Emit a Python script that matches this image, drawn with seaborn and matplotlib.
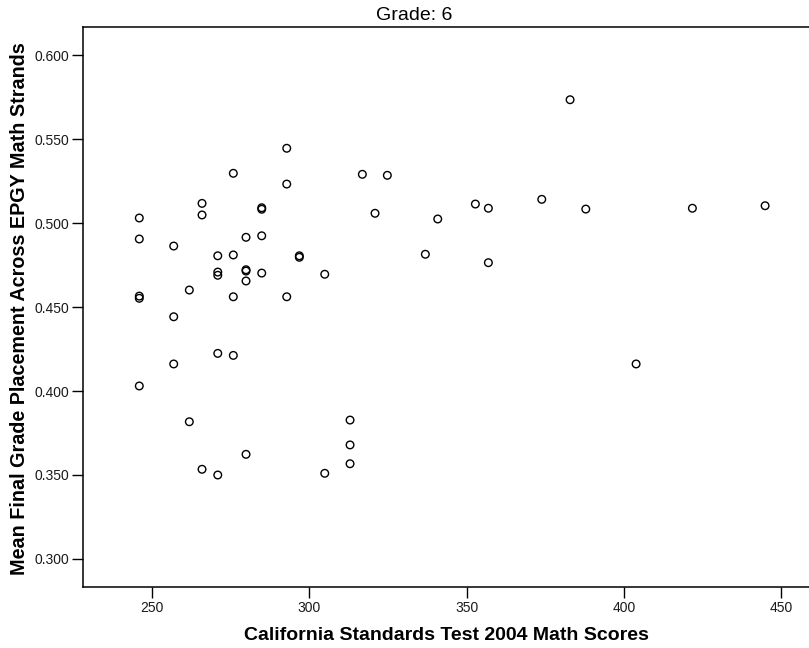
import matplotlib
matplotlib.use("Agg")
import matplotlib.pyplot as plt
import seaborn as sns
import pandas as pd
from matplotlib.ticker import FormatStrFormatter, FixedLocator

cst_scores = [245.96, 245.96, 245.96, 245.96, 245.96,
              256.9, 256.9, 256.9, 261.86, 261.86,
              265.9, 265.9, 265.9, 270.9, 270.9, 270.9, 270.9, 270.9,
              275.84, 275.84, 275.84, 275.84,
              279.88, 279.88, 279.88, 279.88, 279.88,
              284.87, 284.87, 284.87, 284.87,
              292.82, 292.82, 292.82, 296.82, 296.82,
              304.9, 304.9, 312.94, 312.94, 312.94,
              316.85, 320.88, 324.79, 336.87, 340.81,
              352.77, 356.9, 356.9, 373.87, 382.87, 387.86,
              403.85, 421.74, 444.85]
placement = [0.5030, 0.4905, 0.4565, 0.4552, 0.4030,
             0.4863, 0.4442, 0.4161, 0.4601, 0.3817,
             0.5117, 0.5048, 0.3534, 0.4805, 0.4708, 0.4689, 0.4224, 0.3500,
             0.5296, 0.4810, 0.4561, 0.4212,
             0.4915, 0.4722, 0.4714, 0.4655, 0.3623,
             0.5091, 0.5082, 0.4924, 0.4702,
             0.5445, 0.5232, 0.4561, 0.4805, 0.4796,
             0.4695, 0.3510, 0.3827, 0.3679, 0.3567,
             0.5290, 0.5058, 0.5284, 0.4814, 0.5024,
             0.5113, 0.5088, 0.4764, 0.5141, 0.5734, 0.5083,
             0.4161, 0.5088, 0.5103]
x_ticks = [250, 300, 350, 400, 450]
y_ticks = [0.300, 0.350, 0.400, 0.450, 0.500, 0.550, 0.600]
title_text = "Grade: 6"
x_label = "California Standards Test 2004 Math Scores"
y_label = "Mean Final Grade Placement Across EPGY Math Strands"

df = pd.DataFrame({"score": cst_scores, "placement": placement})

sns.set_style("white")
plt.rcParams['font.family'] = ['Liberation Sans', 'DejaVu Sans']

W, H = 809, 648
fig = plt.figure(figsize=(W / 100, H / 100), dpi=100)
ax = fig.add_axes([83 / W, 1 - 586.7 / H, 1 - 83 / W, (586.7 - 27) / H])

sns.scatterplot(data=df, x="score", y="placement", ax=ax, marker="o",
                s=30, facecolor="none", edgecolor="black", linewidth=1.0)

ax.set_xlim(228.07, 458.8)
ax.set_ylim(0.2835, 0.6167)
ax.xaxis.set_major_locator(FixedLocator(x_ticks))
ax.yaxis.set_major_locator(FixedLocator(y_ticks))
ax.yaxis.set_major_formatter(FormatStrFormatter('%.3f'))
ax.xaxis.set_major_formatter(FormatStrFormatter('%d'))
ax.tick_params(axis='both', which='major', direction='out', length=7.6,
               width=1.0, color='black', labelsize=10, labelcolor='#1a1a1a',
               bottom=True, left=True)
ax.tick_params(axis='x', pad=2.5)
ax.tick_params(axis='y', pad=2)
for side in ['left', 'bottom', 'top']:
    ax.spines[side].set_visible(True)
    ax.spines[side].set_color('black')
    ax.spines[side].set_linewidth(1.1)
ax.spines['right'].set_visible(False)
ax.set_xlabel("")
ax.set_ylabel("")

fig.text(414 / W, 1 - 20.5 / H, title_text, ha='center', va='baseline',
         fontsize=14, color='black')
fig.text(446 / W, 1 - 640 / H, x_label, ha='center', va='baseline',
         fontsize=14, fontweight='bold', color='black')
fig.text(20 / W, 1 - 308.5 / H, y_label, ha='center', va='center', rotation=90,
         fontsize=14.2, fontweight='bold', color='black')

fig.savefig("out.png", dpi=100)
